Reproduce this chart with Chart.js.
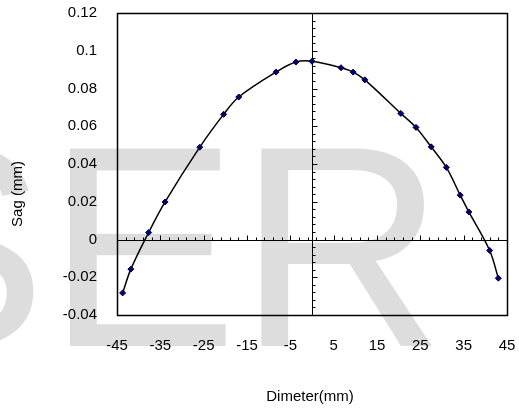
<!DOCTYPE html>
<html>
<head>
<meta charset="utf-8">
<script src="https://cdn.jsdelivr.net/npm/chart.js@4"></script>
<style>
    body { margin: 0; background: #ffffff; }
    #wrap { width: 519px; height: 408px; }
</style>
</head>
<body>
<div id="wrap"><canvas id="sagChart" width="519" height="408"></canvas></div>
<script>
// Измеренные точки профиля (диаметр, мм -> стрелка прогиба, мм)
const diameter = [-43.7, -41.8, -37.7, -33.9, -25.9, -20.4, -16.9, -8.3, -3.7, 0, 6.7, 9.5, 12.2, 20.5, 24.0, 27.5, 31.0, 34.2, 36.2, 41.0, 43.0];
const sag = [-0.0283, -0.0157, 0.0037, 0.0199, 0.0489, 0.0663, 0.0755, 0.0887, 0.0940, 0.0944, 0.0910, 0.0887, 0.0846, 0.0668, 0.0594, 0.0491, 0.0382, 0.0235, 0.0146, -0.0058, -0.0205];

// Подписи осей
const xTicks = [-45, -35, -25, -15, -5, 5, 15, 25, 35, 45];
const yTicks = [-0.04, -0.02, 0, 0.02, 0.04, 0.06, 0.08, 0.1, 0.12];
const xTitle = 'Dimeter(mm)';
const yTitle = 'Sag (mm)';
const watermark = 'SER';

const FONT = '"Liberation Sans", Arial, sans-serif';

// Водяной знак, оси через ноль, рамка и названия осей
const decorPlugin = {
    id: 'decor',
    beforeDraw(chart) {
        const ctx = chart.ctx;
        ctx.save();
        ctx.fillStyle = '#dddddd';
        ctx.font = '287px ' + FONT;
        ctx.textBaseline = 'alphabetic';
        ctx.fillText(watermark, -145, 346);
        ctx.restore();
    },
    beforeDatasetsDraw(chart) {
        const {ctx, chartArea: a, scales: {x, y}} = chart;
        const x0 = Math.round(x.getPixelForValue(0)) + 0.5;
        const y0 = Math.round(y.getPixelForValue(0)) + 0.5;
        ctx.save();
        ctx.strokeStyle = '#000000';
        ctx.lineWidth = 1;
        ctx.beginPath();
        // горизонтальная ось на нуле
        ctx.moveTo(a.left, y0);
        ctx.lineTo(a.right, y0);
        // вертикальная ось на нуле
        ctx.moveTo(x0, a.top);
        ctx.lineTo(x0, a.bottom);
        // засечки по X: каждые 2, крупные каждые 10
        for (let v = -45; v <= 45; v += 2) {
            const px = Math.round(x.getPixelForValue(v)) + 0.5;
            const len = ((v + 45) % 10 === 0) ? 5 : 3;
            ctx.moveTo(px, y0);
            ctx.lineTo(px, y0 - len);
        }
        // засечки по Y: каждые 0.004, крупные каждые 0.02
        for (let i = 0; i <= 40; i++) {
            const v = -0.04 + i * 0.004;
            const py = Math.round(y.getPixelForValue(v)) + 0.5;
            const len = (i % 5 === 0) ? 5 : 3;
            ctx.moveTo(x0, py);
            ctx.lineTo(x0 + len, py);
        }
        ctx.stroke();
        // рамка области построения
        ctx.lineWidth = 1.5;
        ctx.strokeRect(Math.round(a.left) + 0.5, Math.round(a.top) + 0.5,
            Math.round(a.right - a.left), Math.round(a.bottom - a.top));
        ctx.restore();
    },
    afterDraw(chart) {
        const ctx = chart.ctx;
        ctx.save();
        ctx.fillStyle = '#000000';
        ctx.font = '15px ' + FONT;
        ctx.textAlign = 'center';
        ctx.textBaseline = 'middle';
        ctx.fillText(xTitle, 310, 397);
        ctx.translate(18, 194);
        ctx.rotate(-Math.PI / 2);
        ctx.fillText(yTitle, 0, 0);
        ctx.restore();
    }
};

const ctx = document.getElementById('sagChart').getContext('2d');
new Chart(ctx, {
    type: 'line',
    data: {
        datasets: [{
            label: 'Sag',
            data: diameter.map((d, i) => ({x: d, y: sag[i]})),
            borderColor: '#000000',
            borderWidth: 1.5,
            tension: 0.35,
            pointStyle: 'rectRot',
            pointRadius: 3,
            pointBackgroundColor: '#000080',
            pointBorderColor: '#000033',
            pointBorderWidth: 1,
            fill: false
        }]
    },
    options: {
        responsive: false,
        animation: false,
        layout: {padding: {left: 0, right: 12, top: 13, bottom: 0}},
        plugins: {
            legend: {display: false},
            tooltip: {enabled: false}
        },
        scales: {
            x: {
                type: 'linear',
                min: -45,
                max: 45,
                afterBuildTicks: s => { s.ticks = xTicks.map(v => ({value: v})); },
                afterFit: s => { s.height = 93; },
                // отступ подписей через длину засечки (сами засечки не рисуются)
                grid: {display: false, drawTicks: true, tickLength: 22},
                border: {display: false},
                ticks: {
                    padding: 0,
                    maxRotation: 0,
                    autoSkip: false,
                    color: '#000000',
                    font: {family: FONT, size: 15}
                }
            },
            y: {
                type: 'linear',
                min: -0.04,
                max: 0.12,
                afterBuildTicks: s => { s.ticks = yTicks.map(v => ({value: v})); },
                afterFit: s => { s.width = 117; },
                grid: {display: false, drawTicks: true, tickLength: 20},
                border: {display: false},
                ticks: {
                    padding: 0,
                    autoSkip: false,
                    color: '#000000',
                    font: {family: FONT, size: 15},
                    callback: v => String(parseFloat(Number(v).toFixed(2)))
                }
            }
        }
    },
    plugins: [decorPlugin]
});
</script>
</body>
</html>
